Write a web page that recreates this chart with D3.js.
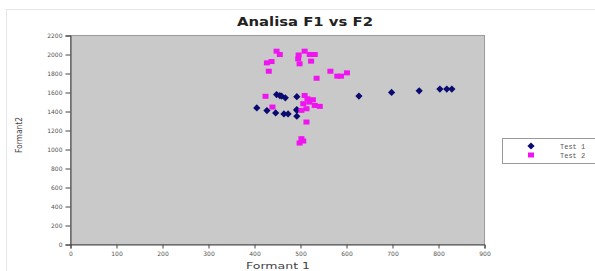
<!DOCTYPE html>
<html><head><meta charset="utf-8">
<script src="https://cdn.jsdelivr.net/npm/d3@7"></script>
<style>body{margin:0;background:#fff}svg{display:block}</style>
</head><body>
<svg id="c" width="595" height="271"></svg>
<script>
const xTicks = [0,100,200,300,400,500,600,700,800,900];
const yTicks = [0,200,400,600,800,1000,1200,1400,1600,1800,2000,2200];
const seriesNames = ["Test 1","Test 2"];
const test1X = [405,427,446,464,473,492,492,448,459,467,492,627,698,758,803,818,829,492,455];
const test1Y = [1438,1410,1385,1374,1374,1350,1420,1578,1561,1544,1556,1562,1601,1618,1636,1636,1636,1412,1568];
const test2X = [427,437,431,448,455,495,498,509,520,531,523,535,565,580,588,601,424,439,509,515,506,519,527,531,542,513,502,513,502,506,498,496];
const test2Y = [1912,1926,1824,2035,2000,1954,1902,2035,2000,2000,1930,1750,1824,1772,1772,1807,1560,1447,1569,1534,1482,1499,1524,1464,1454,1429,1412,1289,1114,1089,1068,1995];

const svg = d3.select("#c");
const m = {l:70.5, r:484.5, t:35.5, b:244.5};
const x = d3.scaleLinear().domain([0,900]).range([m.l,m.r]);
const y = d3.scaleLinear().domain([0,2200]).range([m.b,m.t]);
const F = "DejaVu Sans, Verdana, sans-serif";

svg.append("rect").attr("x",6.5).attr("y",9.5).attr("width",600).attr("height",270)
  .attr("fill","none").attr("stroke","#e6e6e6");

svg.append("rect").attr("x",m.l).attr("y",m.t).attr("width",m.r-m.l).attr("height",m.b-m.t)
  .attr("fill","#c9c9c9").attr("stroke","#9a9a9a").attr("stroke-width",1);

const ax = svg.append("g").attr("transform",`translate(0,${m.b})`)
  .call(d3.axisBottom(x).tickValues(xTicks).tickSize(4).tickPadding(3).tickFormat(d3.format("d")));
const ay = svg.append("g").attr("transform",`translate(${m.l},0)`)
  .call(d3.axisLeft(y).tickValues(yTicks).tickSize(5).tickPadding(3).tickFormat(d3.format("d")));
[ax,ay].forEach(g=>{
  g.selectAll("path,line").attr("stroke","#444");
  g.selectAll("text").attr("font-family",F).attr("font-size",6).attr("fill","#555");
});

svg.append("text").attr("x",305).attr("y",26).attr("text-anchor","middle")
  .attr("font-family",F).attr("font-weight","bold").attr("font-size",12)
  .attr("textLength",136).attr("lengthAdjust","spacingAndGlyphs").attr("fill","#222").text("Analisa F1 vs F2");
svg.append("text").attr("x",278).attr("y",269).attr("text-anchor","middle")
  .attr("font-family",F).attr("font-size",9)
  .attr("textLength",64).attr("lengthAdjust","spacingAndGlyphs").attr("fill","#444").text("Formant 1");
svg.append("text").attr("transform","translate(22,135) rotate(-90)").attr("text-anchor","middle")
  .attr("font-family",F).attr("font-size",8)
  .attr("textLength",36).attr("lengthAdjust","spacingAndGlyphs").attr("fill","#444").text("Formant2");

const diamond = "M0,-3.6L3.6,0L0,3.6L-3.6,0Z";
svg.append("g").selectAll("path").data(test1X.map((v,i)=>[v,test1Y[i]])).join("path")
  .attr("d",diamond).attr("transform",d=>`translate(${x(d[0])},${y(d[1])})`).attr("fill","#0a0a70");
svg.append("g").selectAll("rect").data(test2X.map((v,i)=>[v,test2Y[i]])).join("rect")
  .attr("x",d=>x(d[0])-3).attr("y",d=>y(d[1])-2.5).attr("width",6).attr("height",5).attr("fill","#f014f0");

const lg = svg.append("g");
lg.append("rect").attr("x",502.5).attr("y",138.5).attr("width",100).attr("height",25)
  .attr("fill","#fff").attr("stroke","#999");
lg.append("path").attr("d",diamond).attr("transform","translate(531,146)").attr("fill","#0a0a70");
lg.append("rect").attr("x",528).attr("y",152.5).attr("width",6).attr("height",5).attr("fill","#f014f0");
seriesNames.forEach((s,i)=>{
  lg.append("text").attr("x",560).attr("y",148.5+i*9).attr("font-family","Liberation Mono, monospace")
    .attr("font-size",7).attr("fill","#555").text(s);
});
</script>
</body></html>
